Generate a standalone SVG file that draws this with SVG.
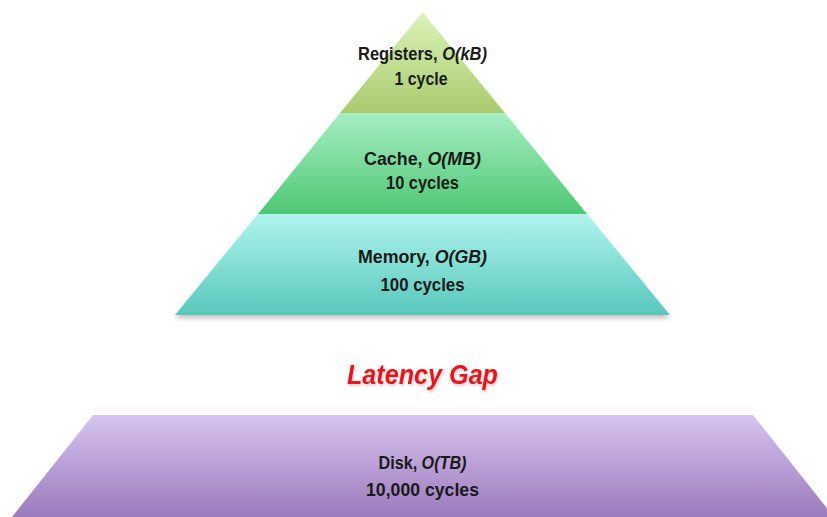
<svg xmlns="http://www.w3.org/2000/svg" width="827" height="517" viewBox="0 0 827 517">
<style>
.lbl{font-family:"Liberation Sans",Arial,sans-serif;font-weight:bold;font-size:19px;fill:#1a1a1a;text-anchor:middle}
.it{font-style:italic}
.gap{font-family:"Liberation Sans",Arial,sans-serif;font-weight:bold;font-style:italic;font-size:27px;fill:#e8161b;text-anchor:middle}
.sh{filter:url(#sh)}
</style>
<defs>
<linearGradient id="gReg" x1="0" y1="0" x2="0" y2="1"><stop offset="0" stop-color="#dcf3b8"/><stop offset="1" stop-color="#a9cb6f"/></linearGradient>
<linearGradient id="gCache" x1="0" y1="0" x2="0" y2="1"><stop offset="0" stop-color="#a6eec3"/><stop offset="1" stop-color="#4fc774"/></linearGradient>
<linearGradient id="gMem" x1="0" y1="0" x2="0" y2="1"><stop offset="0" stop-color="#b0f4ee"/><stop offset="1" stop-color="#58c8ba"/></linearGradient>
<linearGradient id="gDisk" x1="0" y1="0" x2="0" y2="1"><stop offset="0" stop-color="#d7c4ee"/><stop offset="1" stop-color="#9a7abd"/></linearGradient>
<filter id="sh" x="-10%" y="-10%" width="120%" height="130%"><feDropShadow dx="0" dy="3" stdDeviation="2.5" flood-color="#000" flood-opacity="0.25"/></filter>
<filter id="tsh" x="-10%" y="-20%" width="120%" height="150%"><feDropShadow dx="1" dy="2" stdDeviation="1.5" flood-color="#000" flood-opacity="0.2"/></filter>
</defs>
<rect width="827" height="517" fill="#ffffff"/>
<g id="memory">
<polygon class="sh" points="258,214 587,214 670,315 175,315" fill="url(#gMem)"/>
<text class="lbl" x="422.5" y="263" textLength="129" lengthAdjust="spacingAndGlyphs">Memory, <tspan class="it">O(GB)</tspan></text>
<text class="lbl" x="422.5" y="291" textLength="84" lengthAdjust="spacingAndGlyphs">100 cycles</text>
</g>
<g id="cache">
<polygon points="340,113 505,113 587,214 258,214" fill="url(#gCache)"/>
<text class="lbl" x="422.5" y="165" textLength="117" lengthAdjust="spacingAndGlyphs">Cache, <tspan class="it">O(MB)</tspan></text>
<text class="lbl" x="422.5" y="189" textLength="73" lengthAdjust="spacingAndGlyphs">10 cycles</text>
</g>
<g id="registers">
<polygon points="422.5,12 505,113 340,113" fill="url(#gReg)"/>
<text class="lbl" x="422.5" y="60" textLength="129" lengthAdjust="spacingAndGlyphs">Registers, <tspan class="it">O(kB)</tspan></text>
<text class="lbl" x="421" y="85" textLength="53" lengthAdjust="spacingAndGlyphs">1 cycle</text>
</g>
<g id="latency-gap" filter="url(#tsh)">
<text class="gap" x="422.5" y="384" textLength="151" lengthAdjust="spacingAndGlyphs">Latency Gap</text>
</g>
<g id="disk">
<polygon points="93,415 753,415 834,517 12,517" fill="url(#gDisk)"/>
<text class="lbl" x="422.5" y="469" textLength="88" lengthAdjust="spacingAndGlyphs">Disk, <tspan class="it">O(TB)</tspan></text>
<text class="lbl" x="422.5" y="496" textLength="113" lengthAdjust="spacingAndGlyphs">10,000 cycles</text>
</g>
</svg>
